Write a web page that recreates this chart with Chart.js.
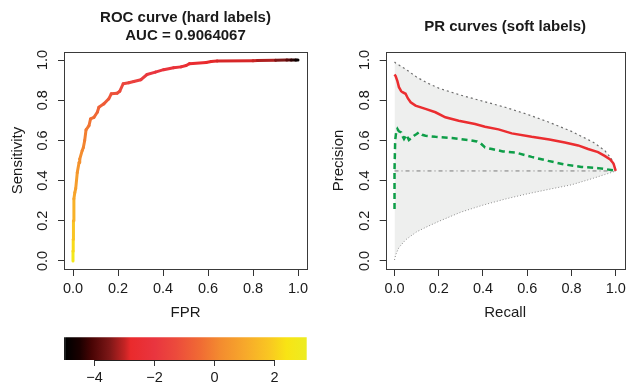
<!DOCTYPE html>
<html><head><meta charset="utf-8">
<script src="https://cdn.jsdelivr.net/npm/chart.js@4.4.1/dist/chart.umd.min.js"></script>
<style>
html,body{margin:0;padding:0;background:#fff;width:630px;height:385px;overflow:hidden;}
canvas{position:absolute;}
#roc{left:0;top:0;} #pr{left:315px;top:0;} #cb{left:0;top:320px;}
</style></head><body>
<canvas id="roc" width="315" height="330"></canvas>
<canvas id="pr" width="315" height="330"></canvas>
<canvas id="cb" width="315" height="65"></canvas>
<script>
// ---------- data ----------
const axisTicks = [0, 0.2, 0.4, 0.6, 0.8, 1.0];

const rocFpr = [0, 0, 0.001, 0.002, 0.004, 0.008, 0.012, 0.019, 0.027, 0.030, 0.041, 0.046, 0.052, 0.058, 0.071, 0.078, 0.093, 0.108, 0.115, 0.137, 0.159, 0.170, 0.196, 0.208, 0.223, 0.248, 0.270, 0.302, 0.329, 0.366, 0.403, 0.447, 0.480, 0.503, 0.518, 0.592, 0.614, 0.640, 0.800, 0.820, 0.900, 0.950, 0.970, 0.990, 1.0];
const rocTpr = [0, 0.05, 0.108, 0.20, 0.31, 0.34, 0.36, 0.44, 0.49, 0.507, 0.55, 0.565, 0.60, 0.653, 0.673, 0.707, 0.715, 0.74, 0.765, 0.782, 0.807, 0.832, 0.835, 0.845, 0.882, 0.887, 0.893, 0.902, 0.928, 0.94, 0.952, 0.962, 0.966, 0.973, 0.982, 0.988, 0.993, 0.995, 0.996, 0.998, 0.999, 1.0, 1.0, 1.0, 1.0];
const rocCutoff = [3.0, 2.4, 2.0, 1.5, 1.0, 0.9, 0.8, 0.55, 0.35, 0.3, 0.15, 0.1, 0.0, -0.15, -0.25, -0.35, -0.45, -0.6, -0.7, -0.8, -0.95, -1.05, -1.15, -1.25, -1.4, -1.5, -1.6, -1.7, -1.85, -2.0, -2.1, -2.25, -2.35, -2.45, -2.55, -2.7, -2.8, -2.85, -2.95, -3.0, -3.3, -3.7, -4.1, -4.6, -5.0];

const redRecall = [0.0, 0.005, 0.013, 0.02, 0.03, 0.036, 0.05, 0.06, 0.073, 0.095, 0.14, 0.185, 0.23, 0.29, 0.364, 0.409, 0.47, 0.53, 0.62, 0.70, 0.77, 0.83, 0.875, 0.92, 0.95, 0.975, 0.99, 1.0];
const redPrec   = [0.928, 0.92, 0.895, 0.865, 0.845, 0.84, 0.832, 0.81, 0.79, 0.773, 0.757, 0.74, 0.715, 0.698, 0.682, 0.668, 0.655, 0.635, 0.618, 0.605, 0.59, 0.575, 0.557, 0.542, 0.523, 0.505, 0.485, 0.448];

const greenRecall = [0.0, 0.0, 0.003, 0.008, 0.013, 0.02, 0.03, 0.037, 0.043, 0.054, 0.065, 0.076, 0.088, 0.10, 0.11, 0.125, 0.14, 0.185, 0.26, 0.334, 0.372, 0.39, 0.409, 0.44, 0.49, 0.546, 0.62, 0.695, 0.77, 0.845, 0.92, 1.0];
const greenPrec   = [0.258, 0.45, 0.60, 0.645, 0.657, 0.645, 0.64, 0.62, 0.607, 0.628, 0.602, 0.612, 0.623, 0.632, 0.64, 0.628, 0.623, 0.618, 0.612, 0.602, 0.595, 0.585, 0.565, 0.557, 0.545, 0.54, 0.518, 0.498, 0.48, 0.468, 0.462, 0.45];

const boundRecall = [0, 0.005, 0.02, 0.05, 0.1, 0.15, 0.2, 0.3, 0.4, 0.5, 0.6, 0.7, 0.8, 0.9, 0.95, 0.98, 1.0];
const boundUpper  = [0.99, 0.985, 0.975, 0.955, 0.915, 0.885, 0.86, 0.825, 0.795, 0.765, 0.73, 0.69, 0.645, 0.59, 0.55, 0.51, 0.448];
const boundLower  = [0.005, 0.03, 0.067, 0.105, 0.145, 0.172, 0.197, 0.243, 0.278, 0.308, 0.334, 0.357, 0.379, 0.412, 0.43, 0.44, 0.448];

const baseRecall = [0, 1];
const basePrec = [0.448, 0.448];

const cbTicks = [-4, -2, 0, 2];
const cbRange = [-5.02, 3.07];
const cbStops  = [-5.02, -4.97, -4.95, -4.5, -4.1, -3.5, -3.0, -2.8, -2.0, -1.3, -0.5, 0.2, 1.0, 1.8, 2.4, 3.07];
const cbColors = ['#1e1e1e', '#1e1e1e', '#000000', '#1a0000', '#480404', '#7d1717', '#c42424', '#ea2a2c', '#e9353f', '#ec4a3c', '#f06a34', '#f38c2f', '#f7a82b', '#f9c622', '#f8e414', '#ecec22'];

// ---------- helpers ----------
const FONT = "'Liberation Sans', Arial, Helvetica, sans-serif";
const TXT = '#1a1a1a';
const toXY = (xs, ys) => xs.map((x, i) => ({x, y: ys[i]}));
function hex(h){ return [parseInt(h.slice(1,3),16), parseInt(h.slice(3,5),16), parseInt(h.slice(5,7),16)]; }
function heat(v){
  if (v <= cbStops[0]) return cbColors[0];
  for (let i = 1; i < cbStops.length; i++) {
    if (v <= cbStops[i]) {
      const t = (v - cbStops[i-1]) / (cbStops[i] - cbStops[i-1]);
      const a = hex(cbColors[i-1]), b = hex(cbColors[i]);
      return 'rgb(' + a.map((c, k) => Math.round(c + (b[k]-c)*t)).join(',') + ')';
    }
  }
  return cbColors[cbColors.length-1];
}
const minus = v => (v < 0 ? '\u2212' + Math.abs(v) : String(v));

function xScale(label){
  return {
    type: 'linear', min: -0.04, max: 1.04,
    afterBuildTicks: s => { s.ticks = axisTicks.map(v => ({value: v})); },
    afterFit: s => { s.height = 60; },
    ticks: {callback: v => Number(v).toFixed(1), font: {family: FONT, size: 14.5}, color: TXT, padding: 4, minRotation: 0, maxRotation: 0, autoSkip: false},
    grid: {drawOnChartArea: false, drawTicks: true, tickLength: 7, tickColor: '#333', tickWidth: 1},
    border: {display: false},
    title: {display: true, text: label, font: {family: FONT, size: 15}, color: TXT, padding: {top: 0, bottom: 6.7}}
  };
}
function yScale(label, width, titlePad){
  return {
    type: 'linear', min: -0.04, max: 1.04,
    afterBuildTicks: s => { s.ticks = axisTicks.map(v => ({value: v})); },
    afterFit: s => { s.width = width; },
    ticks: {callback: v => Number(v).toFixed(1), font: {family: FONT, size: 14.5}, color: TXT, padding: 5, minRotation: 90, maxRotation: 90, crossAlign: 'center', autoSkip: false},
    grid: {drawOnChartArea: false, drawTicks: true, tickLength: 6, tickColor: '#333', tickWidth: 1},
    border: {display: false},
    title: {display: true, text: label, font: {family: FONT, size: 15}, color: TXT, padding: {top: titlePad, bottom: 0}}
  };
}
const boxPlugin = {
  id: 'box',
  afterDatasetsDraw(chart){
    const {ctx, chartArea: a} = chart;
    ctx.save();
    ctx.strokeStyle = '#3a3a3a'; ctx.lineWidth = 1;
    ctx.strokeRect(Math.round(a.left) + 0.5, Math.round(a.top) + 0.5, Math.round(a.right - a.left), Math.round(a.bottom - a.top));
    ctx.restore();
  }
};
const base = {
  responsive: false, animation: false, events: [], devicePixelRatio: 1,
};

// ---------- ROC ----------
new Chart(document.getElementById('roc'), {
  type: 'line',
  data: {datasets: [{
    data: toXY(rocFpr, rocTpr), borderWidth: 3, pointRadius: 0, tension: 0,
    borderCapStyle: 'round', borderJoinStyle: 'round', borderColor: '#ea2a2c',
    segment: {borderColor: c => heat((rocCutoff[c.p0DataIndex] + rocCutoff[c.p1DataIndex]) / 2)}
  }]},
  options: Object.assign({}, base, {
    layout: {padding: {left: 0, right: 8, top: 0, bottom: 1}},
    plugins: {
      legend: {display: false}, tooltip: {enabled: false},
      title: {display: true, fullSize: false, text: ['ROC curve (hard labels)', 'AUC = 0.9064067'],
        font: {family: FONT, size: 15, weight: 'bold', lineHeight: 1.1667}, color: TXT, padding: {top: 9.25, bottom: 7.75}}
    },
    scales: {x: xScale('FPR'), y: yScale('Sensitivity', 64, 8.5)}
  }),
  plugins: [boxPlugin]
});

// ---------- PR ----------
new Chart(document.getElementById('pr'), {
  type: 'line',
  data: {datasets: [
    {data: toXY(boundRecall, boundUpper), borderColor: '#6e6e6e', borderWidth: 1.2, borderDash: [2, 3], pointRadius: 0, tension: 0,
      fill: {target: '+1'}, backgroundColor: '#eeefee', order: 3},
    {data: toXY(boundRecall, boundLower), borderColor: '#8c8c8c', borderWidth: 1, borderDash: [1, 2], pointRadius: 0, tension: 0, fill: false, order: 4},
    {data: toXY(baseRecall, basePrec), borderColor: '#7a7a7a', borderWidth: 1, borderDash: [4, 3, 1, 3], pointRadius: 0, fill: false, order: 2},
    {data: toXY(greenRecall, greenPrec), borderColor: '#0e9e48', borderWidth: 2.5, borderDash: [6, 4], pointRadius: 0, tension: 0, fill: false, order: 1},
    {data: toXY(redRecall, redPrec), borderColor: '#eb2d30', borderWidth: 2.5, pointRadius: 0, tension: 0, fill: false, order: 0}
  ]},
  options: Object.assign({}, base, {
    layout: {padding: {left: 0, right: 3, top: 0, bottom: 1}},
    plugins: {
      legend: {display: false}, tooltip: {enabled: false},
      filler: {drawTime: 'beforeDatasetsDraw'},
      title: {display: true, fullSize: false, text: 'PR curves (soft labels)',
        font: {family: FONT, size: 15, weight: 'bold', lineHeight: 1.1667}, color: TXT, padding: {top: 17.75, bottom: 16.75}}
    },
    scales: {x: xScale('Recall'), y: yScale('Precision', 70.67, 15)}
  }),
  plugins: [boxPlugin]
});

// ---------- colour bar ----------
const cbAxisLine = {
  id: 'cbAxisLine',
  afterDraw(chart){
    const {ctx, chartArea: a, scales: {x}} = chart;
    ctx.save(); ctx.strokeStyle = '#222'; ctx.lineWidth = 1;
    ctx.beginPath();
    const y = Math.round(a.bottom) + 0.5;
    ctx.moveTo(x.getPixelForValue(cbTicks[0]), y);
    ctx.lineTo(x.getPixelForValue(cbTicks[cbTicks.length-1]), y);
    ctx.stroke(); ctx.restore();
  }
};
new Chart(document.getElementById('cb'), {
  type: 'bar',
  data: {labels: ['z'], datasets: [{
    data: [[cbRange[0], cbRange[1]]], barPercentage: 1, categoryPercentage: 1, borderWidth: 0,
    backgroundColor: c => {
      const ch = c.chart, x = ch.scales.x;
      if (!ch.chartArea || !x) return '#f38c2f';
      const x0 = x.getPixelForValue(cbRange[0]), x1 = x.getPixelForValue(cbRange[1]);
      const g = ch.ctx.createLinearGradient(x0, 0, x1, 0);
      cbStops.forEach((v, i) => g.addColorStop(Math.min(1, Math.max(0, (v - cbRange[0]) / (cbRange[1] - cbRange[0]))), cbColors[i]));
      return g;
    }
  }]},
  options: Object.assign({}, base, {
    indexAxis: 'y',
    layout: {padding: {left: 64, right: 8.3, top: 17.3, bottom: 0}},
    plugins: {legend: {display: false}, tooltip: {enabled: false}},
    scales: {
      y: {display: false},
      x: {
        type: 'linear', min: cbRange[0], max: cbRange[1],
        afterBuildTicks: s => { s.ticks = cbTicks.map(v => ({value: v})); },
        afterFit: s => { s.height = 25; },
        ticks: {callback: v => minus(v), font: {family: FONT, size: 14.5}, color: TXT, padding: 3, minRotation: 0, maxRotation: 0, autoSkip: false},
        grid: {drawOnChartArea: false, drawTicks: true, tickLength: 6, tickColor: '#333', tickWidth: 1},
        border: {display: false}
      }
    }
  }),
  plugins: [cbAxisLine]
});
</script>
</body></html>
